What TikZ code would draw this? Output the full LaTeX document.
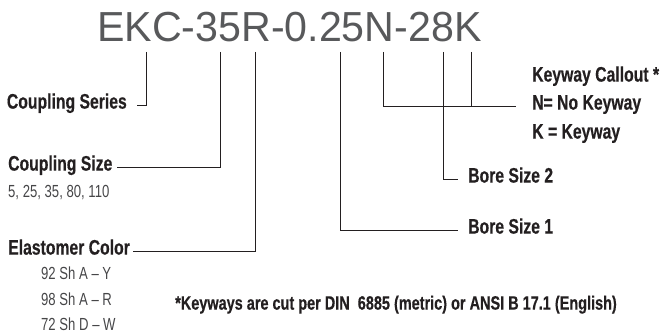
\documentclass[tikz,border=0pt]{standalone}
\usepackage{fontspec}
\setmainfont{Liberation Sans}[FakeStretch=0.75,BoldFeatures={FakeBold=0.4}]
\newfontfamily\codefont{Liberation Sans}[FakeStretch=0.98]
\usetikzlibrary{positioning}
\definecolor{inkblk}{RGB}{35,31,32}
\definecolor{codegray}{RGB}{88,89,91}
\definecolor{subgray}{RGB}{70,70,72}
\tikzset{
  leadln/.style={line width=0.9pt,inkblk},
  keylbl/.style={font=\fontsize{21}{21}\selectfont\bfseries,text=inkblk,inner sep=0pt,
    text height=0.72em,text depth=0pt},
  sublbl/.style={font=\fontsize{17.5}{17.5}\selectfont,text=subgray,inner sep=0pt,
    text height=0.72em,text depth=0pt},
  notelbl/.style={font=\fontsize{19.3}{19.3}\selectfont\bfseries,text=inkblk,inner sep=0pt,
    text height=0.72em,text depth=0pt},
  codelbl/.style={font=\codefont\fontsize{42}{42}\selectfont,text=codegray,inner sep=0pt},
}
\begin{document}
\begin{tikzpicture}[x=1pt,y=-1pt]
  \useasboundingbox (0,0) rectangle (667,334);
  % part number
  \node[codelbl,anchor=base west] (code) at (97,42) {EKC-35R-0.25N-28K};
  \foreach \nm/\xx in {cSer/146,cSize/220,cElast/255,cBore1/340,cKeyN/383,cBore2/443,cKeyK/471}
    \coordinate (\nm) at (\xx,52);
  % left side
  \node[keylbl,anchor=east] (ser) at (127,105) {Coupling Series};
  \node[keylbl,anchor=west] (size) at (8,167) {Coupling Size};
  \node[sublbl,anchor=west] (sizes) at (8,194) {5, 25, 35, 80, 110};
  \node[keylbl,anchor=west] (elast) at (8,251) {Elastomer Color};
  \node[sublbl,anchor=west] (elY) at (41,276) {92 Sh A -- Y};
  \node[sublbl,anchor=west] (elR) at (41,302) {98 Sh A -- R};
  \node[sublbl,anchor=west] (elW) at (41,327) {72 Sh D -- W};
  % right side
  \node[keylbl,anchor=west] (keyhd) at (532,78) {Keyway Callout *};
  \node[keylbl,anchor=west] (keyN) at (532,106) {N= No Keyway};
  \node[keylbl,anchor=west] (keyK) at (532,135) {K = Keyway};
  \node[keylbl,anchor=west] (bore2) at (468,179) {Bore Size 2};
  \node[keylbl,anchor=west] (bore1) at (468,230) {Bore Size 1};
  \node[notelbl,anchor=west] (note) at (175,306)
    {*Keyways are cut per DIN\ \ 6885 (metric) or ANSI B 17.1 (English)};
  % leaders
  \draw[leadln] (cSer) |- ([xshift=10pt]ser.east);
  \draw[leadln] (cSize) |- ([xshift=4pt]size.east);
  \draw[leadln] (cElast) |- ([xshift=3pt]elast.east);
  \draw[leadln] (cBore1) |- ([xshift=-10pt]bore1.west);
  \draw[leadln] (cBore2) |- ([xshift=-10pt]bore2.west);
  \draw[leadln] (cKeyN) |- ([xshift=-16pt]keyN.west);
  \draw[leadln] (cKeyK) -- (cKeyK |- keyN.west);
\end{tikzpicture}
\end{document}
